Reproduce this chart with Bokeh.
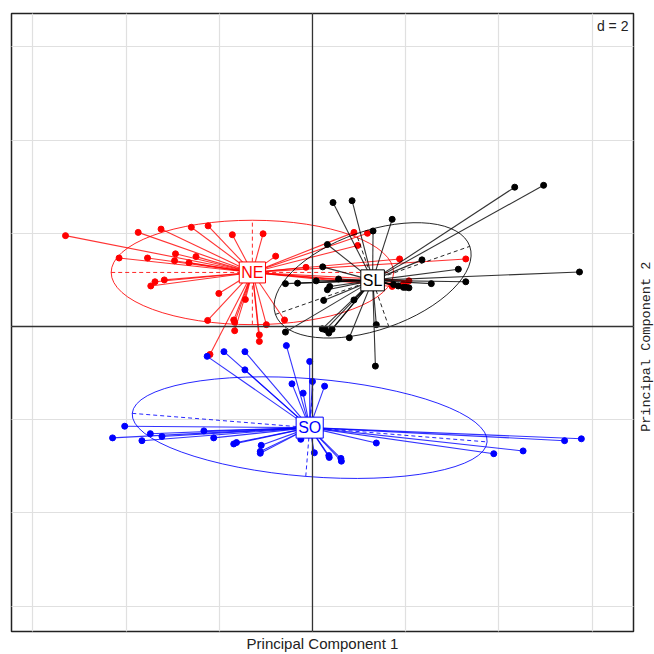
import math
from bokeh.plotting import figure
from bokeh.layouts import row
from bokeh.models import Label, Span, Grid, FixedTicker, Range1d, LinearAxis
from bokeh.embed import file_html
from bokeh.resources import INLINE

# ---- data (principal component scores) ----
groups = ["NE", "SL", "SO"]
group_colors = ["#FF0000", "#000000", "#0000FF"]

ne_x = [-5.30, -3.74, -3.25, -2.60, -2.24, -1.72, -1.06, -0.79, -4.15, -3.54, -2.94, -2.96,
        -2.65, -2.50, -3.18, -3.38, -3.47, -2.01, -1.44, -2.25, -1.69, -1.67, -1.67, -1.14,
        -1.14, -0.99, -0.60, -2.20, 0.89, 1.18, 0.97, 1.87, 3.29, -0.14, 1.71, 2.07, 1.95, 2.00]
ne_y = [1.95, 2.02, 2.09, 2.13, 2.16, 1.97, 1.99, 1.51, 1.47, 1.47, 1.56, 1.41,
        1.37, 1.50, 1.00, 0.96, 0.87, 0.71, 0.58, 0.13, 0.14, 0.09, -0.09, -0.18,
        -0.32, 0.04, 0.14, -0.60, 2.02, 2.00, 1.74, 1.45, 1.45, 1.27, 0.86, 0.98, 0.91, 0.88]

sl_x = [0.44, 0.85, 4.34, 4.96, 1.71, 1.30, 0.32, 2.35, 3.13, 5.73, 3.29, 2.55,
        -0.58, -0.32, 0.08, 0.56, 0.37, 0.32, 0.24, 0.22, 0.89, 1.74, 1.84, 1.95,
        2.00, 2.07, 1.37, -0.58, 0.21, 0.28, 0.42, 0.35, 0.79, 1.35]
sl_y = [2.66, 2.70, 2.99, 3.03, 2.30, 2.05, 1.76, 1.43, 1.23, 1.17, 0.96, 0.92,
        0.92, 0.93, 0.98, 1.02, 0.86, 0.79, 0.56, 1.28, 0.57, 0.90, 0.87, 0.84,
        0.84, 0.83, 0.04, -0.12, -0.05, -0.07, -0.06, -0.14, -0.24, -0.85]

so_x = [-2.26, -1.90, -1.45, -1.45, -0.56, -0.06, -0.44, -0.20, 0.00, 0.26, -4.03, -4.29,
        -3.66, -3.48, -3.23, -2.33, -2.12, -1.69, -1.63, -1.10, -1.12, -1.12, -0.25, 0.04,
        0.35, 0.36, 0.61, 0.62, 1.37, 3.89, 4.52, 5.41, 5.77]
so_y = [-0.64, -0.54, -0.54, -0.93, -0.41, -0.75, -1.23, -1.43, -1.18, -1.28, -2.14, -2.39,
        -2.45, -2.30, -2.36, -2.24, -2.39, -2.52, -2.49, -2.55, -2.68, -2.72, -2.42, -2.71,
        -2.77, -2.81, -2.83, -2.89, -2.50, -2.73, -2.67, -2.45, -2.41]

# class centroids
cent_x = [-1.29, 1.29, -0.06]
cent_y = [1.16, 0.99, -2.17]

# ellipse parameters: semi-major, semi-minor, angle (degrees)
ell_a = [3.03, 2.21, 3.82]
ell_b = [1.12, 1.06, 1.05]
ell_angle = [0.0, 19.3, -4.6]

grid_ticks = [-6, -4, -2, 2, 4, 6]
grid_step_label = "d = 2"
xlabel = "Principal Component 1"
ylabel = "Principal Component 2"

pts_x = [ne_x, sl_x, so_x]
pts_y = [ne_y, sl_y, so_y]

# ---- main figure ----
p = figure(width=635, height=654, output_backend="svg", toolbar_location=None,
           x_range=Range1d(-6.459, 6.889), y_range=Range1d(-6.545, 6.717),
           x_axis_location=None, y_axis_location=None, title=None,
           min_border_left=11, min_border_right=2, min_border_top=13, min_border_bottom=23)
p.outline_line_color = "#222222"
p.outline_line_width = 1.5
p.background_fill_color = "white"
p.border_fill_color = "white"

p.add_layout(Grid(dimension=0, ticker=FixedTicker(ticks=grid_ticks),
                  grid_line_color="#E0E0E0", grid_line_width=1.2), "center")
p.add_layout(Grid(dimension=1, ticker=FixedTicker(ticks=grid_ticks),
                  grid_line_color="#E0E0E0", grid_line_width=1.2), "center")
p.add_layout(Span(location=0, dimension="height", line_color="#333333", line_width=1.3))
p.add_layout(Span(location=0, dimension="width", line_color="#333333", line_width=1.3))

xaxis = LinearAxis(ticker=FixedTicker(ticks=[]), axis_label=xlabel,
                   axis_line_color=None, major_tick_out=0, major_tick_in=0,
                   minor_tick_out=0, minor_tick_in=0, major_label_text_font_size="0px",
                   major_label_standoff=0, axis_label_standoff=3,
                   axis_label_text_font="Liberation Sans", axis_label_text_font_size="15px",
                   axis_label_text_font_style="normal", axis_label_text_color="#222222")
p.add_layout(xaxis, "below")

for i, g in enumerate(groups):
    col = group_colors[i]
    cx, cy = cent_x[i], cent_y[i]
    a, b, ang = ell_a[i], ell_b[i], math.radians(ell_angle[i])
    # ellipse
    p.ellipse(x=[cx], y=[cy], width=[2 * a], height=[2 * b], angle=[ang],
              fill_color=None, line_color=col, line_width=1, line_alpha=0.85)
    # ellipse axes (dashed)
    ca, sa = math.cos(ang), math.sin(ang)
    p.segment(x0=[cx - a * ca, cx + b * sa], y0=[cy - a * sa, cy - b * ca],
              x1=[cx + a * ca, cx - b * sa], y1=[cy + a * sa, cy + b * ca],
              line_color=col, line_width=1, line_dash="4 3", line_alpha=0.85)
    # stars
    xs, ys = pts_x[i], pts_y[i]
    p.segment(x0=[cx] * len(xs), y0=[cy] * len(ys), x1=xs, y1=ys,
              line_color=col, line_width=1.1, line_alpha=0.8)
    p.scatter(x=xs, y=ys, size=6, fill_color=col, line_color=col)

for i, g in enumerate(groups):
    col = group_colors[i]
    p.add_layout(Label(x=cent_x[i], y=cent_y[i], text=g, text_align="center",
                       text_baseline="middle", text_color=col, text_font="Liberation Sans",
                       text_font_size="16px", background_fill_color="white",
                       border_line_color=col, border_line_width=1, padding=2))

p.add_layout(Label(x=6.78, y=6.44, text=grid_step_label, text_align="right",
                   text_baseline="middle", text_color="#222222", text_font="Liberation Sans",
                   text_font_size="14px", background_fill_color="white"))

# ---- narrow strip on the right carrying the vertical axis title ----
q = figure(width=19, height=654, output_backend="svg", toolbar_location=None,
           x_range=Range1d(0, 1), y_range=Range1d(0, 1),
           x_axis_location=None, y_axis_location=None, title=None,
           min_border_left=18, min_border_right=0, min_border_top=13, min_border_bottom=23)
q.outline_line_color = None
q.background_fill_color = "white"
q.border_fill_color = "white"
q.xgrid.visible = False
q.ygrid.visible = False
# trailing no-break spaces shift the centred (monospace) title down along the side
yaxis = LinearAxis(ticker=FixedTicker(ticks=[]), axis_label=ylabel + "\u00a0" * 6,
                   axis_line_color=None, major_tick_out=0, major_tick_in=0,
                   minor_tick_out=0, minor_tick_in=0, major_label_text_font_size="0px",
                   major_label_standoff=0, axis_label_standoff=0,
                   axis_label_text_font="Liberation Mono", axis_label_text_font_size="13.5px",
                   axis_label_text_font_style="normal", axis_label_text_color="#222222")
q.add_layout(yaxis, "left")

layout = row(p, q, spacing=0)
open("out.html", "w").write(file_html(layout, INLINE))
